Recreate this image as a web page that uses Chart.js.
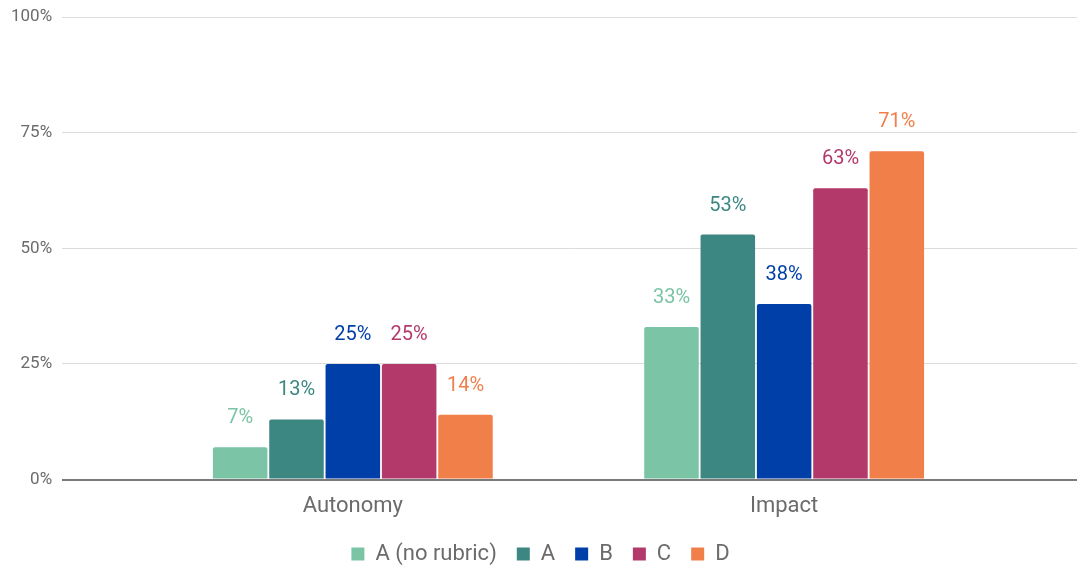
<!DOCTYPE html>
<html>
<head>
<meta charset="utf-8">
<script src="https://cdn.jsdelivr.net/npm/chart.js@4.4.1/dist/chart.umd.min.js"></script>
<style>
  html, body { margin: 0; padding: 0; background: #fff; }
  #wrap { width: 1084px; height: 566px; }
</style>
</head>
<body>
<div id="wrap"><canvas id="chart"></canvas></div>
<script>
// categories and series
const categories = ['Autonomy', 'Impact'];
const seriesNames = ['A (no rubric)', 'A', 'B', 'C', 'D'];
const noRubric = [7, 33];
const seriesA = [13, 53];
const seriesB = [25, 38];
const seriesC = [25, 63];
const seriesD = [14, 71];
const yTicks = [0, 25, 50, 75, 100];

const seriesValues = [noRubric, seriesA, seriesB, seriesC, seriesD];
const seriesColors = ['#7bc4a5', '#3d8783', '#003fa8', '#b3396b', '#f07f4a'];

// bars sit on a linear x axis so the groups can be pulled in from the plot edges
const datasets = seriesNames.map((name, i) => ({
    label: name,
    data: seriesValues[i].map((v, j) => ({ x: j, y: v })),
    backgroundColor: seriesColors[i],
    borderColor: seriesColors[i],
    borderWidth: 0,
    borderRadius: 2,
    borderSkipped: 'bottom',
    categoryPercentage: 0.653,
    barPercentage: 0.968
}));

// value labels above each bar
const valueLabels = {
    id: 'valueLabels',
    afterDatasetsDraw(chart) {
        const ctx = chart.ctx;
        ctx.save();
        ctx.font = '20px Roboto';
        ctx.textAlign = 'center';
        ctx.textBaseline = 'middle';
        chart.data.datasets.forEach((ds, i) => {
            const meta = chart.getDatasetMeta(i);
            meta.data.forEach((bar, j) => {
                ctx.fillStyle = ds.backgroundColor;
                ctx.fillText(ds.data[j].y + '%', bar.x, bar.y - 29);
            });
        });
        ctx.restore();
    }
};

new Chart(document.getElementById('chart'), {
    type: 'bar',
    data: { datasets },
    plugins: [valueLabels],
    options: {
        responsive: true,
        maintainAspectRatio: false,
        animation: false,
        layout: { padding: { left: 4, right: 7, top: 0, bottom: -9 } },
        scales: {
            x: {
                type: 'linear',
                min: -0.674,
                max: 1.679,
                offset: false,
                afterBuildTicks(scale) {
                    scale.ticks = categories.map((c, i) => ({ value: i }));
                },
                afterFit(scale) {
                    scale.height -= 3;
                },
                ticks: {
                    callback: v => categories[v],
                    font: { family: 'Roboto', size: 22 },
                    color: '#6b6b6b',
                    padding: 6
                },
                grid: { display: false },
                border: { display: false }
            },
            y: {
                min: 0,
                max: 100,
                afterBuildTicks(scale) {
                    scale.ticks = yTicks.map(v => ({ value: v }));
                },
                ticks: {
                    callback: v => v + '%',
                    font: { family: 'Roboto', size: 17 },
                    color: '#6b6b6b',
                    padding: 7
                },
                grid: {
                    drawTicks: true,
                    tickLength: 3,
                    tickColor: 'rgba(0,0,0,0)',
                    color: c => c.tick.value === 0 ? '#7a7a7a' : '#dcdcdc',
                    lineWidth: c => c.tick.value === 0 ? 2 : 1
                },
                border: { display: false }
            }
        },
        plugins: {
            legend: {
                position: 'bottom',
                labels: {
                    font: { family: 'Roboto', size: 22 },
                    color: '#6b6b6b',
                    boxWidth: 13,
                    boxHeight: 13,
                    padding: 20
                }
            },
            tooltip: { enabled: false }
        }
    }
});
</script>
</body>
</html>
